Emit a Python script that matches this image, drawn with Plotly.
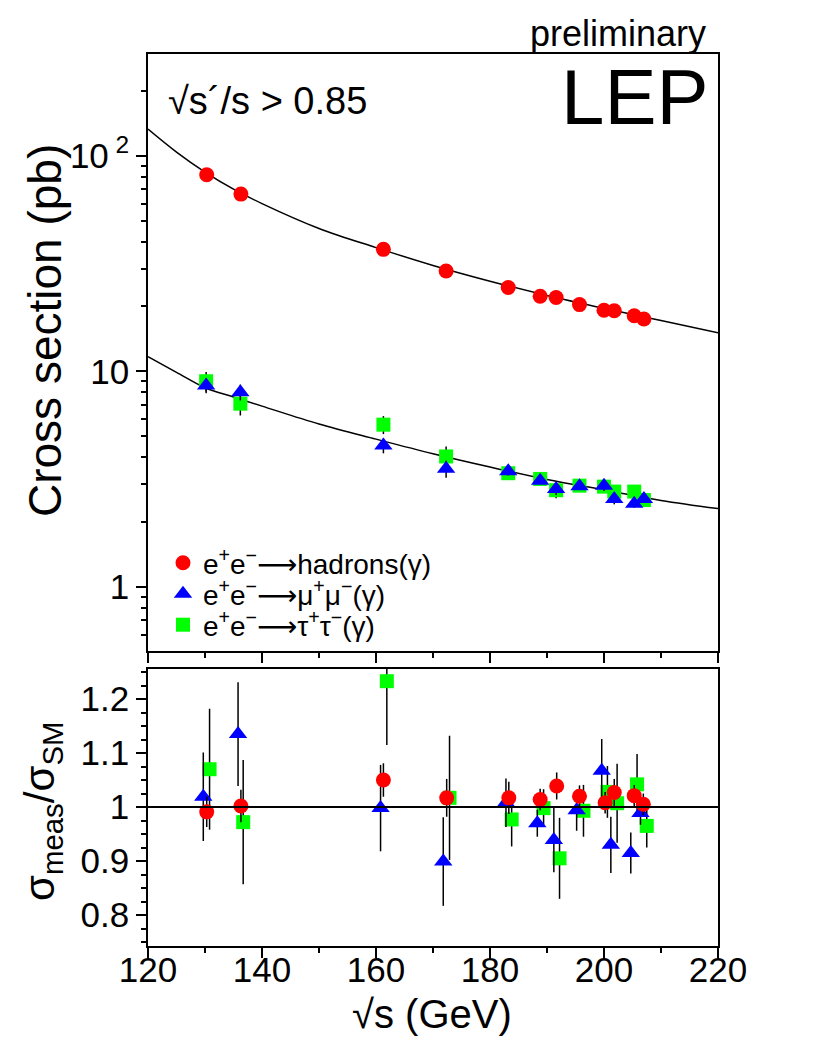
import plotly.graph_objects as go

# ---------------- data ----------------
# upper panel: measured cross sections (pb)
ecm_had = [130.3, 136.3, 161.3, 172.3, 183.2, 188.8, 191.6, 195.7, 200.0, 201.8, 205.3, 207.0]
sig_had = [81.6, 66.4, 36.8, 29.2, 24.5, 22.3, 22.0, 20.4, 19.2, 19.1, 18.1, 17.5]
ecm_lep = [130.2, 136.2, 161.3, 172.3, 183.2, 188.8, 191.6, 195.7, 200.0, 201.8, 205.3, 207.0]
sig_mu = [8.6, 8.0, 4.53, 3.53, 3.44, 3.11, 2.85, 2.93, 2.95, 2.56, 2.43, 2.56]
sig_tau = [9.0, 7.08, 5.66, 4.03, 3.37, 3.17, 2.81, 2.95, 2.92, 2.77, 2.77, 2.53]

# SM prediction curves
ecm_curve = [120, 125, 130, 135, 140, 150, 160, 170, 180, 190, 200, 210, 220]
sm_had = [133, 104, 84, 70, 60, 46, 37.5, 31, 26.2, 22.5, 19.6, 17.2, 15.1]
sm_lep = [11.7, 9.9, 8.4, 7.6, 6.9, 5.7, 4.85, 4.15, 3.6, 3.15, 2.82, 2.52, 2.31]

# lower panel: ratio measured / SM
r_x_had = [130.3, 136.3, 161.3, 172.4, 183.3, 188.8, 191.7, 195.7, 200.2, 201.8, 205.3, 206.9]
r_had = [0.991, 1.002, 1.050, 1.017, 1.017, 1.014, 1.039, 1.020, 1.008, 1.027, 1.021, 1.005]
r_had_err = [0.028, 0.030, 0.031, 0.035, 0.030, 0.020, 0.025, 0.020, 0.020, 0.025, 0.020, 0.020]
r_x_mu = [129.7, 135.8, 160.8, 171.8, 182.8, 188.3, 191.2, 195.2, 199.6, 201.2, 204.7, 206.4]
r_mu = [1.019, 1.135, 0.998, 0.899, 1.008, 0.970, 0.939, 0.994, 1.067, 0.930, 0.915, 0.989]
r_mu_err = [0.082, 0.096, 0.080, 0.082, 0.045, 0.025, 0.060, 0.038, 0.059, 0.052, 0.038, 0.022]
r_x_tau = [130.8, 136.7, 161.9, 172.9, 183.8, 189.4, 192.2, 196.4, 200.6, 202.3, 205.8, 207.5]
r_tau = [1.070, 0.972, 1.233, 1.017, 0.977, 0.998, 0.905, 0.993, 1.028, 1.007, 1.042, 0.965]
r_tau_err = [0.112, 0.115, 0.118, 0.115, 0.050, 0.035, 0.075, 0.048, 0.048, 0.073, 0.056, 0.040]

ARROW = "\u27f6"
labels = ["e<sup>+</sup>e<sup>\u2212</sup>" + ARROW + "hadrons(\u03b3)",
          "e<sup>+</sup>e<sup>\u2212</sup>" + ARROW + "\u03bc<sup>+</sup>\u03bc<sup>\u2212</sup>(\u03b3)",
          "e<sup>+</sup>e<sup>\u2212</sup>" + ARROW + "\u03c4<sup>+</sup>\u03c4<sup>\u2212</sup>(\u03b3)"]

x_ticks = [120, 140, 160, 180, 200, 220]
x_minor = [130, 150, 170, 190, 210]
y_ticks = [1, 10, 100]
y_ticktext = ["1", "10", "10<sup> 2</sup>"]
y_minor = [0.6, 0.7, 0.8, 0.9, 2, 3, 4, 5, 6, 7, 8, 9, 20, 30, 40, 50, 60, 70, 80, 90, 200]
r_ticks = [0.8, 0.9, 1.0, 1.1, 1.2]
r_ticktext = ["0.8", "0.9", "1", "1.1", "1.2"]
r_minor = [0.75, 0.775, 0.825, 0.85, 0.875, 0.925, 0.95, 0.975, 1.025, 1.05, 1.075,
           1.125, 1.15, 1.175, 1.225, 1.25]

# ---------------- geometry (screen pixels incl. 8px page margin) ----------------
OFF = 8
W, H = 817, 1058
X0, X1 = 148, 718          # plot left/right on screen
top_up, bot_up = 54, 651   # upper panel on screen
top_lo, bot_lo = 669, 946  # lower panel on screen
L = X0 - OFF
R = W - (X1 - OFF)
T = top_up - OFF
B = H - (bot_lo - OFF)
PW, PH = W - L - R, H - T - B


def px(xs):
    return (xs - OFF - L) / PW


def py(ys):
    return (H - B - (ys - OFF)) / PH


FONT = "Liberation Sans, Arial, Helvetica, DejaVu Sans, sans-serif"
RED, BLUE, GREEN = "#ff0000", "#0000ff", "#00ff00"

fig = go.Figure()

# SM curves
for yv in (sm_had, sm_lep):
    fig.add_trace(go.Scatter(x=ecm_curve, y=yv, mode="lines",
                             line=dict(color="black", width=1.5, shape="spline"),
                             showlegend=False, hoverinfo="skip", xaxis="x", yaxis="y"))

err_tau_abs = [s * e / r for s, e, r in zip(sig_tau, r_tau_err, r_tau)]
err_mu_abs = [s * e / r for s, e, r in zip(sig_mu, r_mu_err, r_mu)]
err_had_abs = [s * e / r for s, e, r in zip(sig_had, r_had_err, r_had)]

EB = dict(type="data", color="black", thickness=1.5, width=0)
M_TAU = dict(symbol="square", size=14, color=GREEN)
M_MU = dict(symbol="triangle-up", size=16, color=BLUE)
M_HAD = dict(symbol="circle", size=15, color=RED)

# upper panel points (tau drawn first, hadrons on top)
fig.add_trace(go.Scatter(x=ecm_lep, y=sig_tau, mode="markers", name=labels[2], legend="legend3",
                         marker=M_TAU, error_y=dict(EB, array=err_tau_abs), xaxis="x", yaxis="y"))
fig.add_trace(go.Scatter(x=ecm_lep, y=sig_mu, mode="markers", name=labels[1], legend="legend2",
                         marker=M_MU, error_y=dict(EB, array=err_mu_abs), xaxis="x", yaxis="y"))
fig.add_trace(go.Scatter(x=ecm_had, y=sig_had, mode="markers", name=labels[0], legend="legend",
                         marker=M_HAD, error_y=dict(EB, array=err_had_abs), xaxis="x", yaxis="y"))

# lower panel ratios
fig.add_trace(go.Scatter(x=r_x_tau, y=r_tau, mode="markers", showlegend=False, marker=M_TAU,
                         error_y=dict(EB, array=r_tau_err), xaxis="x2", yaxis="y2"))
fig.add_trace(go.Scatter(x=r_x_mu, y=r_mu, mode="markers", showlegend=False, marker=M_MU,
                         error_y=dict(EB, array=r_mu_err), xaxis="x2", yaxis="y2"))
fig.add_trace(go.Scatter(x=r_x_had, y=r_had, mode="markers", showlegend=False, marker=M_HAD,
                         error_y=dict(EB, array=r_had_err), xaxis="x2", yaxis="y2"))

TICKFONT = dict(family=FONT, size=35, color="black")
axis_common = dict(showgrid=False, zeroline=False, showline=True, linecolor="black", linewidth=1.5,
                   mirror=True, ticks="outside", tickcolor="black", tickwidth=1.5,
                   tickfont=TICKFONT)
MINOR = dict(ticks="outside", ticklen=5, tickcolor="black", tickwidth=1.5, tickmode="array")

LEGFONT = dict(family=FONT, size=28, color="black")


def leg(ys):
    return dict(x=px(163), y=py(ys), xanchor="left", yanchor="middle",
                bgcolor="rgba(0,0,0,0)", font=LEGFONT, itemsizing="trace")


fig.update_layout(
    width=W, height=H,
    margin=dict(l=L, r=R, t=T, b=B, pad=0),
    paper_bgcolor="white", plot_bgcolor="white",
    font=dict(family=FONT, color="black"),
    xaxis=dict(axis_common, domain=[0, 1], range=[120, 220], anchor="y",
               tickmode="array", tickvals=x_ticks, showticklabels=False, ticklen=10,
               minor=dict(MINOR, tickvals=x_minor)),
    yaxis=dict(axis_common, domain=[py(bot_up), py(top_up)], type="log", range=[-0.297, 2.472],
               anchor="x", tickmode="array", tickvals=y_ticks, ticktext=y_ticktext, ticklen=10,
               minor=dict(MINOR, tickvals=y_minor)),
    xaxis2=dict(axis_common, domain=[0, 1], range=[120, 220], anchor="y2",
                tickmode="array", tickvals=x_ticks, ticklen=10, ticklabelstandoff=-18,
                minor=dict(MINOR, tickvals=x_minor)),
    yaxis2=dict(axis_common, domain=[py(bot_lo), py(top_lo)], range=[0.7426, 1.2556],
                anchor="x2", tickmode="array", tickvals=r_ticks, ticktext=r_ticktext, ticklen=10,
                minor=dict(MINOR, tickvals=r_minor)),
    legend=leg(563),
    legend2=leg(594),
    legend3=leg(625),
    showlegend=True,
)

# horizontal reference line at ratio = 1
fig.add_shape(type="line", xref="x2", yref="y2", x0=120, x1=220, y0=1, y1=1,
              line=dict(color="black", width=2))

ann = [
    dict(text="Cross section (pb)", x=px(45), y=py(331), textangle=-90, size=46),
    dict(text="\u03c3<sub>meas</sub>/\u03c3<sub>SM</sub>", x=px(42), y=py(812), textangle=-90, size=42),
    dict(text="\u221as (GeV)", x=px(432), y=py(1014), textangle=0, size=40),
    dict(text="preliminary", x=px(618), y=py(34), textangle=0, size=36),
    dict(text="LEP", x=px(634), y=py(97), textangle=0, size=78),
]
for a in ann:
    fig.add_annotation(text=a["text"], x=a["x"], y=a["y"], xref="paper", yref="paper",
                       xanchor="center", yanchor="middle", textangle=a["textangle"], showarrow=False,
                       font=dict(family=FONT, size=a["size"], color="black"))
fig.add_annotation(text="\u221as\u00b4/s > 0.85", x=px(166), y=py(101), xref="paper", yref="paper",
                   xanchor="left", yanchor="middle", showarrow=False,
                   font=dict(family=FONT, size=38, color="black"))

fig.write_html("out.html")
